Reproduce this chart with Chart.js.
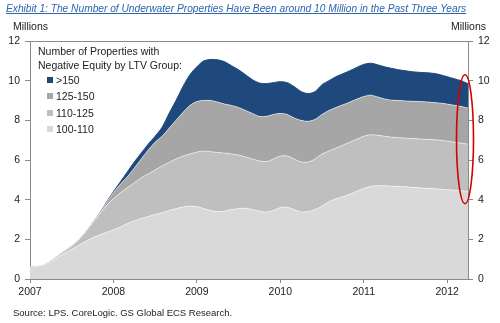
<!DOCTYPE html>
<html>
<head>
<meta charset="utf-8">
<script src="https://cdn.jsdelivr.net/npm/chart.js@4/dist/chart.umd.min.js"></script>
<style>
  body { margin: 0; background: #fff; font-family: "Liberation Sans", Arial, sans-serif; }
  #wrap { position: relative; width: 500px; height: 323px; overflow: hidden; }
  #c { position: absolute; left: 0; top: 0; }
  .txt { position: absolute; white-space: nowrap; color: #222; }
  #legend { position: absolute; left: 38px; top: 44px; font-size: 10.5px; color: #222; line-height: 14px; }
  #legend .item { position: relative; height: 16.3px; line-height: 16.3px; padding-left: 18px; }
  #legend .box { position: absolute; left: 9px; top: 5px; width: 6px; height: 6px; }
</style>
</head>
<body>
<div id="wrap">
  <canvas id="c" width="500" height="323"></canvas>
  <div class="txt" style="left:6px;top:3px;font-size:10.2px;font-style:italic;color:#2c64ad;text-decoration:underline;">Exhibit 1: The Number of Underwater Properties Have Been around 10 Million in the Past Three Years</div>
  <div class="txt" style="left:13px;top:20px;font-size:10.5px;">Millions</div>
  <div class="txt" style="left:451px;top:20px;font-size:10.5px;">Millions</div>
  <div id="legend"></div>
  <div class="txt" style="left:13px;top:307px;font-size:9.5px;">Source: LPS. CoreLogic. GS Global ECS Research.</div>
</div>
<script>
// monthly, Jan 2007 .. Apr 2012 (millions of properties)
const months = [];
for (let y = 2007; y <= 2012; y++) {
  for (let m = 1; m <= 12; m++) {
    if (y === 2012 && m > 4) break;
    months.push(y + '-' + String(m).padStart(2, '0'));
  }
}

const ltv100_110 = [0.6,0.62,0.7,0.88,1.1,1.3,1.5,1.7,1.9,2.08,2.22,2.35,
  2.48,2.62,2.8,2.93,3.05,3.15,3.25,3.35,3.45,3.55,3.63,3.68,
  3.65,3.55,3.45,3.4,3.42,3.5,3.55,3.57,3.5,3.42,3.38,3.45,
  3.6,3.62,3.5,3.38,3.4,3.5,3.68,3.9,4.05,4.15,4.27,4.42,
  4.57,4.67,4.7,4.7,4.68,4.67,4.65,4.62,4.6,4.58,4.55,4.53,
  4.5,4.48,4.45,4.42];
const ltv110_125 = [0,0,0,0.02,0.05,0.1,0.15,0.25,0.45,0.72,1.03,1.35,
  1.57,1.73,1.8,1.92,2.05,2.15,2.25,2.35,2.43,2.5,2.57,2.62,
  2.75,2.9,2.97,2.98,2.93,2.8,2.7,2.58,2.55,2.53,2.54,2.6,
  2.6,2.58,2.55,2.52,2.5,2.55,2.62,2.55,2.55,2.6,2.63,2.63,
  2.63,2.6,2.55,2.5,2.47,2.45,2.45,2.46,2.46,2.46,2.47,2.47,
  2.45,2.42,2.4,2.38];
const ltv125_150 = [0,0,0,0,0,0,0,0,0,0.02,0.05,0.15,
  0.3,0.43,0.55,0.75,0.95,1.2,1.4,1.5,1.72,1.95,2.2,2.45,
  2.55,2.55,2.58,2.54,2.47,2.45,2.4,2.35,2.3,2.25,2.28,2.25,
  2.15,2.1,2.07,2.1,2.05,2.0,2.0,2.05,2.05,2.03,2.02,2.02,
  2.0,2.0,1.93,1.88,1.87,1.88,1.88,1.88,1.89,1.89,1.88,1.87,
  1.87,1.86,1.85,1.82];
const ltvOver150 = [0,0,0,0,0,0,0,0,0,0,0,0.02,
  0.05,0.12,0.25,0.3,0.3,0.3,0.3,0.45,0.75,1.0,1.3,1.55,
  1.75,2.0,2.07,2.13,2.13,2.0,1.9,1.8,1.7,1.68,1.65,1.6,
  1.6,1.6,1.58,1.45,1.4,1.4,1.5,1.5,1.55,1.57,1.58,1.6,
  1.62,1.61,1.62,1.62,1.6,1.55,1.52,1.49,1.47,1.47,1.47,1.43,
  1.38,1.34,1.3,1.23];

const yTicks = [0, 2, 4, 6, 8, 10, 12];
const groupNames = ['>150', '125-150', '110-125', '100-110'];
const groupColors = ['#1f497d', '#a6a6a6', '#bfbfbf', '#d9d9d9'];

const axisGray = '#8a8a8a';
const tickFont = { family: '"Liberation Sans", Arial, sans-serif', size: 10.5 };

// legend, top group first
const legend = document.getElementById('legend');
legend.innerHTML = '<div>Number of Properties with</div><div>Negative Equity by LTV Group:</div>';
groupNames.forEach((name, i) => {
  const row = document.createElement('div');
  row.className = 'item';
  row.innerHTML = '<span class="box" style="background:' + groupColors[i] + '"></span>';
  row.appendChild(document.createTextNode(name));
  legend.appendChild(row);
});

function layer(values, idx, fill) {
  return {
    label: groupNames[idx],
    data: values,
    backgroundColor: groupColors[idx],
    borderColor: idx === 0 ? groupColors[idx] : 'rgba(255,255,255,0.55)',
    borderWidth: 1,
    fill: fill,
    pointRadius: 0,
    tension: 0.3
  };
}

// red oval round the latest readings
const ovalPlugin = {
  id: 'oval',
  afterDraw(chart) {
    const { ctx, chartArea, scales } = chart;
    ctx.save();
    ctx.strokeStyle = axisGray;
    ctx.lineWidth = 1;
    ctx.beginPath();
    ctx.moveTo(chartArea.left, chartArea.top + 0.5);
    ctx.lineTo(chartArea.right, chartArea.top + 0.5);
    ctx.stroke();

    const cx = scales.x.getPixelForValue(months.length - 1) - 3;
    const top = scales.y.getPixelForValue(10.3);
    const bottom = scales.y.getPixelForValue(3.8);
    ctx.strokeStyle = '#d40000';
    ctx.lineWidth = 1.6;
    ctx.beginPath();
    ctx.ellipse(cx, (top + bottom) / 2, 8.5, (bottom - top) / 2, 0, 0, Math.PI * 2);
    ctx.stroke();
    ctx.restore();
  }
};

new Chart(document.getElementById('c'), {
  type: 'line',
  data: {
    labels: months,
    datasets: [
      layer(ltv100_110, 3, 'origin'),
      layer(ltv110_125, 2, '-1'),
      layer(ltv125_150, 1, '-1'),
      layer(ltvOver150, 0, '-1')
    ]
  },
  options: {
    responsive: false,
    animation: false,
    layout: { padding: { top: 41, left: 0, right: 0, bottom: 0 } },
    plugins: { legend: { display: false }, tooltip: { enabled: false } },
    scales: {
      x: {
        offset: false,
        border: { color: axisGray, width: 1 },
        grid: {
          drawOnChartArea: false,
          tickLength: 4,
          color: (c) => (c.index % 12 === 0 ? axisGray : 'rgba(0,0,0,0)')
        },
        ticks: {
          autoSkip: false,
          maxRotation: 0,
          padding: 3,
          color: '#222',
          font: tickFont,
          callback: (v, i) => (i % 12 === 0 ? months[i].slice(0, 4) : '')
        },
        afterFit: (s) => { s.height = 44; }
      },
      y: {
        stacked: true,
        min: 0,
        max: 12,
        border: { color: axisGray, width: 1 },
        grid: { drawOnChartArea: false, tickLength: 5, color: axisGray },
        afterBuildTicks: (s) => { s.ticks = yTicks.map(v => ({ value: v })); },
        ticks: { padding: 5, color: '#222', font: tickFont },
        afterFit: (s) => { s.width = 30; }
      },
      y2: {
        position: 'right',
        min: 0,
        max: 12,
        border: { color: axisGray, width: 1 },
        grid: { drawOnChartArea: false, tickLength: 5, color: axisGray },
        afterBuildTicks: (s) => { s.ticks = yTicks.map(v => ({ value: v })); },
        ticks: { padding: 5, color: '#222', font: tickFont },
        afterFit: (s) => { s.width = 32; }
      }
    }
  },
  plugins: [ovalPlugin]
});
</script>
</body>
</html>
